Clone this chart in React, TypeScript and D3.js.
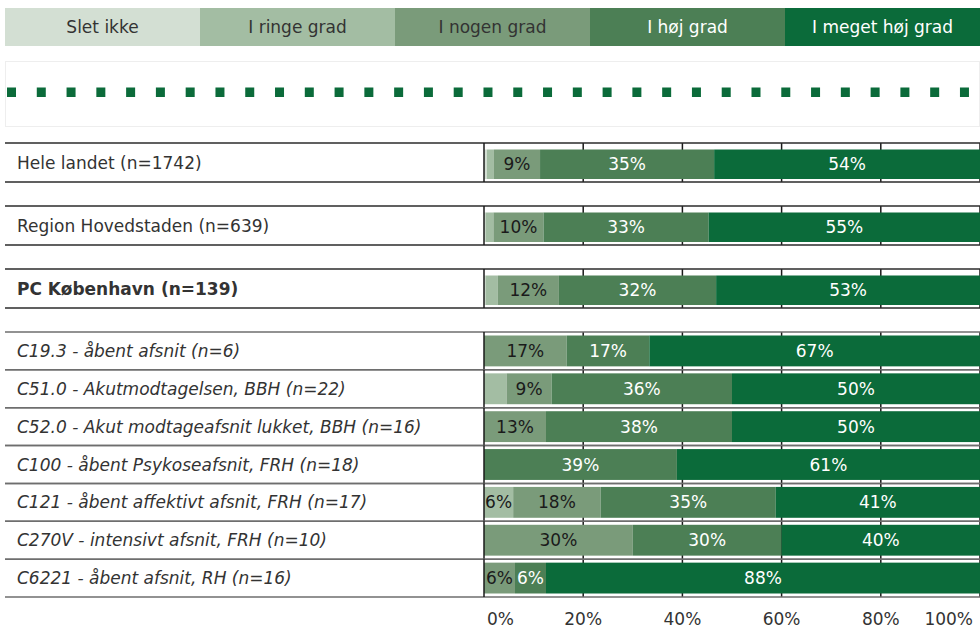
import React from "react";
import * as d3 from "d3";

const levels = ["Slet ikke", "I ringe grad", "I nogen grad", "I høj grad", "I meget høj grad"];
const levelColors = ["#d3dfd3", "#a3bda3", "#7a9b7a", "#4c7f55", "#0b6b3a"];
const levelText = ["#333333", "#333333", "#333333", "#ffffff", "#ffffff"];

const groupLabels = ["Hele landet (n=1742)", "Region Hovedstaden (n=639)", "PC København (n=139)"];
const unitLabels = [
  "C19.3 - åbent afsnit (n=6)",
  "C51.0 - Akutmodtagelsen, BBH (n=22)",
  "C52.0 - Akut modtageafsnit lukket, BBH (n=16)",
  "C100 - åbent Psykoseafsnit, FRH (n=18)",
  "C121 - åbent affektivt afsnit, FRH (n=17)",
  "C270V - intensivt afsnit, FRH (n=10)",
  "C6221 - åbent afsnit, RH (n=16)",
];

const sletIkke = [0.6, 0.3, 0.3, 0, 0, 0, 0, 0, 0, 0];
const iRingeGrad = [1.4, 1.6, 2.5, 0, 4.55, 0, 0, 5.88, 0, 0];
const iNogenGrad = [9.3, 10.1, 12.3, 16.67, 9.09, 12.5, 0, 17.65, 30, 6.25];
const iHoejGrad = [35.1, 33.3, 31.7, 16.67, 36.36, 37.5, 38.89, 35.29, 30, 6.25];
const iMegetHoejGrad = [53.6, 54.7, 53.2, 66.66, 50, 50, 61.11, 41.18, 40, 87.5];

const axisTicks = [0, 20, 40, 60, 80, 100];

const series = [sletIkke, iRingeGrad, iNogenGrad, iHoejGrad, iMegetHoejGrad];
const FONT = "'DejaVu Sans', Verdana, sans-serif";
const FS = 17;

export default function App() {
  const x = d3.scaleLinear().domain([0, 100]).range([484, 980]);
  const legendX = d3.scaleBand<number>().domain(d3.range(levels.length)).range([5, 980]);

  type Row = { label: string; top: number; h: number; kind: "group" | "unit"; bold: boolean; idx: number };
  const rows: Row[] = [];
  groupLabels.forEach((l, i) => rows.push({ label: l, top: 143 + i * 63, h: 39, kind: "group", bold: i === 2, idx: i }));
  const unitH = (597 - 332) / unitLabels.length;
  unitLabels.forEach((l, i) =>
    rows.push({ label: l, top: 332 + i * unitH, h: unitH, kind: "unit", bold: false, idx: groupLabels.length + i })
  );

  const stack = d3.stack<number>().keys(levels.map((_, i) => String(i))).value((d, k) => series[+k][d]);
  const stacked = stack(d3.range(rows.length));

  const squares = d3.range(33);

  return (
    <div style={{ position: "absolute", left: 0, top: 0 }}>
      <svg width={980} height={629} style={{ display: "block" }} fontFamily={FONT}>
        {/* legend */}
        {levels.map((l, i) => (
          <g key={l}>
            <rect x={legendX(i)} y={8} width={legendX.bandwidth()} height={38} fill={levelColors[i]} />
            <text
              x={legendX(i)! + legendX.bandwidth() / 2}
              y={27}
              dy="0.35em"
              textAnchor="middle"
              fontSize={FS}
              fill={levelText[i]}
            >
              {l}
            </text>
          </g>
        ))}
        {/* dotted box */}
        <rect x={5.5} y={61.5} width={974} height={65} fill="none" stroke="#eeeeee" />
        {squares.map((i) => (
          <rect key={i} x={7 + i * 29.78} y={87.5} width={9} height={9.5} fill="#0b6b3a" />
        ))}

        {/* rows */}
        {rows.map((r) => {
          const barTop = r.kind === "group" ? r.top + 6.5 : r.top + 3.5;
          const barBot = r.kind === "group" ? r.top + r.h - 3 : r.top + r.h - 3.5;
          const lineColor = r.kind === "group" ? "#2b2b2b" : "#6e6e6e";
          return (
            <g key={r.label}>
              {axisTicks.slice(1).map((t) => (
                <line key={t} x1={x(t)} x2={x(t)} y1={r.top} y2={r.top + r.h} stroke="#1a1a1a" strokeWidth={1.5} />
              ))}
              {stacked.map((s, k) => {
                const d = s[r.idx];
                const v = d[1] - d[0];
                if (v <= 0) return null;
                const x0 = x(d[0]);
                const x1 = x(d[1]);
                return (
                  <g key={k}>
                    <rect x={x0} y={barTop} width={x1 - x0} height={barBot - barTop} fill={levelColors[k]} />
                    {v >= 5 && (
                      <text
                        x={(x0 + x1) / 2}
                        y={(barTop + barBot) / 2}
                        dy="0.36em"
                        textAnchor="middle"
                        fontSize={FS}
                        fill={k >= 3 ? "#ffffff" : "#1a1a1a"}
                      >
                        {Math.round(v) + "%"}
                      </text>
                    )}
                  </g>
                );
              })}
              <line x1={5} x2={980} y1={r.top} y2={r.top} stroke={lineColor} strokeWidth={1.5} />
              <line x1={5} x2={980} y1={r.top + r.h} y2={r.top + r.h} stroke={lineColor} strokeWidth={1.5} />
              <line x1={484} x2={484} y1={r.top} y2={r.top + r.h} stroke="#1a1a1a" strokeWidth={1.5} />
              <text
                x={17}
                y={r.top + r.h / 2}
                dy="0.36em"
                fontSize={FS}
                fill="#333333"
                fontWeight={r.bold ? "bold" : "normal"}
                fontStyle={r.kind === "unit" ? "italic" : "normal"}
              >
                {r.label}
              </text>
            </g>
          );
        })}

        {/* axis labels */}
        {axisTicks.map((t, i) => (
          <text
            key={t}
            x={i === 0 ? x(t) + 3 : i === axisTicks.length - 1 ? x(t) - 7 : x(t)}
            y={625}
            textAnchor={i === 0 ? "start" : i === axisTicks.length - 1 ? "end" : "middle"}
            fontSize={FS}
            fill="#333333"
          >
            {t + "%"}
          </text>
        ))}
      </svg>
    </div>
  );
}
